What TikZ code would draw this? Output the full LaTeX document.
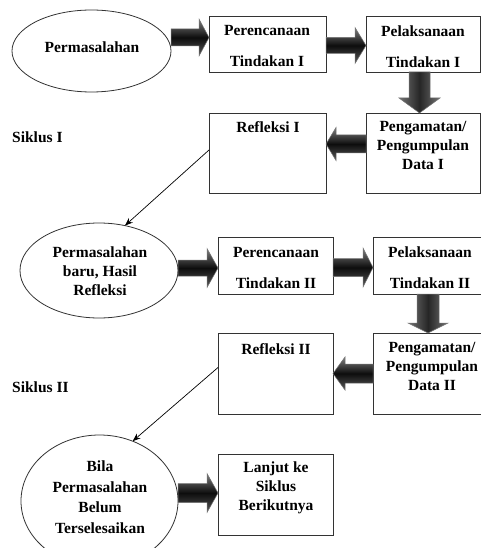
\documentclass[tikz,border=0pt]{standalone}
\usepackage{fontspec}
\setmainfont{Liberation Serif}
\usetikzlibrary{shapes.geometric,arrows.meta,calc}
\tikzset{
  box/.style={draw=black!80, line width=0.8pt, inner sep=0pt, outer sep=0pt, rectangle},
  ell/.style={draw=black!80, line width=0.8pt, ellipse, inner sep=0pt, outer sep=0pt},
  lbl/.style={font=\bfseries\fontsize{15.5}{19}\selectfont, align=center, inner sep=0pt},
  hbar/.style={top color=black!50, bottom color=black!65, middle color=black!95, draw=black!55, line width=0.5pt},
  vbar/.style={left color=black!55, right color=black!55, middle color=black!85, draw=black!55, line width=0.5pt},
  thin/.style={draw=black, line width=0.7pt, -{Stealth[length=8pt,width=6pt]}}
}
% right-pointing block arrow: from, to, y-centre, shaft half, head half, head length
\newcommand\barR[6]{\shade[hbar] let \p1=#1, \p2=#2, \p3=(0,#3) in
  (\x1,\y3+#4) -- (\x2-#6,\y3+#4) -- (\x2-#6,\y3+#5) -- (\x2,\y3) -- (\x2-#6,\y3-#5) -- (\x2-#6,\y3-#4) -- (\x1,\y3-#4) -- cycle;}
\newcommand\barL[6]{\shade[hbar] let \p1=#1, \p2=#2, \p3=(0,#3) in
  (\x1,\y3+#4) -- (\x2+#6,\y3+#4) -- (\x2+#6,\y3+#5) -- (\x2,\y3) -- (\x2+#6,\y3-#5) -- (\x2+#6,\y3-#4) -- (\x1,\y3-#4) -- cycle;}
\newcommand\barD[6]{\shade[vbar] let \p1=#1, \p2=#2, \p3=(#3,0) in
  (\x3-#4,\y1) -- (\x3-#4,\y2+#6) -- (\x3-#5,\y2+#6) -- (\x3,\y2) -- (\x3+#5,\y2+#6) -- (\x3+#4,\y2+#6) -- (\x3+#4,\y1) -- cycle;}
\begin{document}
\begin{tikzpicture}[x=1pt, y=-1pt]
\useasboundingbox (0,0) rectangle (481,548);
\fill[white] (0,0) rectangle (481,548);

% ellipses
\node[ell, minimum width=159pt, minimum height=82pt] (e1) at (91.5,51) {};
\node[ell, minimum width=158pt, minimum height=95pt] (e2) at (99,270.5) {};
\node[ell, minimum width=157pt, minimum height=132pt] (e3) at (99.5,501) {};

% boxes
\node[box, minimum width=117pt, minimum height=56pt] (A) at (267.5,44) {};
\node[box, minimum width=114pt, minimum height=56pt] (B) at (423,44) {};
\node[box, minimum width=117pt, minimum height=80pt] (D) at (267.5,153) {};
\node[box, minimum width=114pt, minimum height=80pt] (C) at (423,153) {};
\node[box, minimum width=115pt, minimum height=57pt] (E) at (275.5,265.5) {};
\node[box, minimum width=119pt, minimum height=57pt] (F) at (432.5,265.5) {};
\node[box, minimum width=115pt, minimum height=81pt] (H) at (275.5,373.5) {};
\node[box, minimum width=119pt, minimum height=81pt] (G) at (432.5,373.5) {};
\node[box, minimum width=115pt, minimum height=81pt] (I) at (275.5,494.5) {};

% texts
\node[lbl] (t1) at (92,47) {Permasalahan};
\node[lbl, font=\bfseries\fontsize{15.5}{31}\selectfont] (tA) at (267,46.5) {Perencanaan\\Tindakan I};
\node[lbl, font=\bfseries\fontsize{15.5}{31}\selectfont] (tB) at (423,46.5) {Pelaksanaan\\Tindakan I};
\node[lbl] (tD) at (268,127) {Refleksi I};
\node[lbl] (tC) at (423,145.5) {Pengamatan/\\Pengumpulan\\Data I};
\node[lbl] (s1) [anchor=west] at (12,137) {Siklus I};
\node[lbl] (t2) at (100,271) {Permasalahan\\baru, Hasil\\Refleksi};
\node[lbl, font=\bfseries\fontsize{15.5}{31}\selectfont] (tE) at (276,267.5) {Perencanaan\\Tindakan II};
\node[lbl, font=\bfseries\fontsize{15.5}{31}\selectfont] (tF) at (430,267.5) {Pelaksanaan\\Tindakan II};
\node[lbl] (tH) at (276,349) {Refleksi II};
\node[lbl] (tG) at (432,366) {Pengamatan/\\Pengumpulan\\Data II};
\node[lbl] (s2) [anchor=west] at (12,387) {Siklus II};
\node[lbl, font=\bfseries\fontsize{15.5}{20.6}\selectfont] (t3) at (100,497) {Bila\\Permasalahan\\Belum\\Terselesaikan};
\node[lbl] (tI) at (276,487.5) {Lanjut ke\\Siklus\\Berikutnya};

% block arrows
\barR{(e1.east)}{(A.west)}{37.5}{8.5pt}{18.5pt}{10pt}
\barR{(A.east)}{(B.west)}{45.5}{8pt}{18pt}{11pt}
\barD{(B.south)}{(C.north)}{419.5}{10.5pt}{20.5pt}{15pt}
\barL{(C.west)}{(D.east)}{144}{9pt}{16.5pt}{10pt}
\barR{(e2.east)}{(E.west)}{268}{8pt}{19.5pt}{11pt}
\barR{(E.east)}{(F.west)}{267.5}{9pt}{19.5pt}{10pt}
\barD{(F.south)}{(G.north)}{428}{11pt}{20pt}{10pt}
\barL{(G.west)}{(H.east)}{373.5}{9.5pt}{16.5pt}{12pt}
\barR{(e3.east)}{(I.west)}{493}{9.5pt}{19.5pt}{11pt}

% thin connectors
\draw[thin] ([yshift=3pt]D.west) -- (e2.60);
\draw[thin] ([yshift=6pt]H.west) -- (e3.61);
\end{tikzpicture}
\end{document}
